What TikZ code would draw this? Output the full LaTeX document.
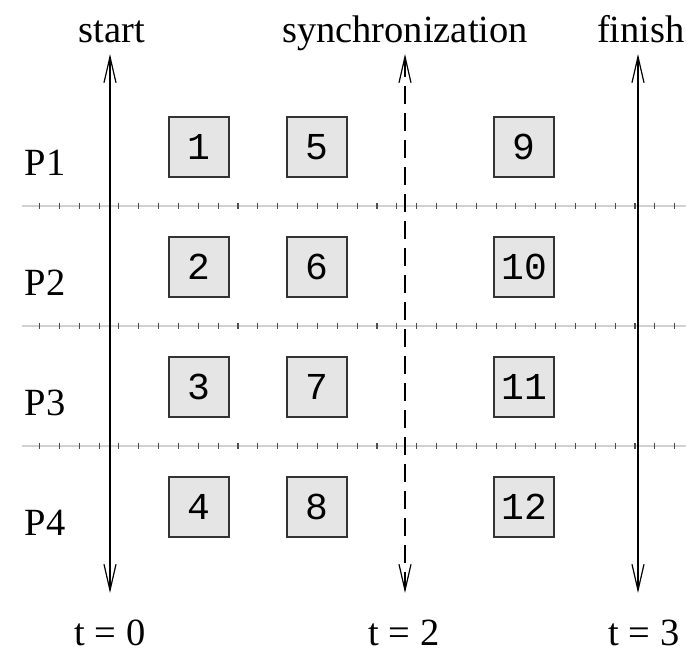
\documentclass[tikz,border=0pt]{standalone}
\usepackage{fontspec}
\setmainfont{Liberation Serif}
\newfontfamily\boxfont{Liberation Mono}
\usetikzlibrary{arrows.meta}
\begin{document}
\begin{tikzpicture}[x=1pt,y=-1pt,
  lbl/.style={font=\fontsize{38.5}{41}\selectfont, anchor=base, inner sep=0pt},
  task/.style={draw=black!80, line width=1.3pt, fill=black!10, minimum size=60pt,
    inner sep=0pt, font=\boxfont\fontsize{38}{40}\selectfont},
  timeline/.style={line width=1.8pt, {Straight Barb[length=26pt,width=12pt,line width=1.2pt]}-{Straight Barb[length=26pt,width=12pt,line width=1.2pt]}},
  sep/.style={draw=black!18, line width=1.5pt},
  tick/.style={draw=black!70, line width=1.1pt}]
\useasboundingbox (0,0) rectangle (686,657);

% process boundaries with tick marks
\foreach \y in {206,326,446} {
  \draw[sep] (22,\y) -- (686,\y);
  \foreach \k in {0,...,32}
    \draw[tick] ({39.5+19.85*\k},\y-3) -- ({39.5+19.85*\k},\y+3);
}

% time axes
\coordinate (a0t) at (110,54);  \coordinate (a0b) at (110,593);
\coordinate (a2t) at (405,54);  \coordinate (a2b) at (405,593);
\coordinate (a3t) at (638,54);  \coordinate (a3b) at (638,593);
\draw[timeline] (a0b) -- (a0t);
\draw[timeline, dash pattern=on 18pt off 9pt] (a2b) -- (a2t);
\draw[timeline] (a3b) -- (a3t);

% headings
\node[lbl] (hstart) at (112,42) {start};
\node[lbl] (hsync) at (405,42) {synchronization};
\node[lbl] (hfin) at (641,42) {finish};

% time labels
\node[lbl] (t0) at (110,645) {t = 0};
\node[lbl] (t2) at (404,645) {t = 2};
\node[lbl] (t3) at (644,645) {t = 3};

% process labels
\node[lbl] (p1) at (45,175) {P1};
\node[lbl] (p2) at (45,295) {P2};
\node[lbl] (p3) at (45,415) {P3};
\node[lbl] (p4) at (45,535) {P4};

% tasks
\node[task] (b1) at (199,147) {1};
\node[task] (b2) at (199,267) {2};
\node[task] (b3) at (199,387) {3};
\node[task] (b4) at (199,507) {4};
\node[task] (b5) at (317,147) {5};
\node[task] (b6) at (317,267) {6};
\node[task] (b7) at (317,387) {7};
\node[task] (b8) at (317,507) {8};
\node[task] (b9) at (524,147) {9};
\node[task] (b10) at (524,267) {10};
\node[task] (b11) at (524,387) {11};
\node[task] (b12) at (524,507) {12};
\end{tikzpicture}
\end{document}
